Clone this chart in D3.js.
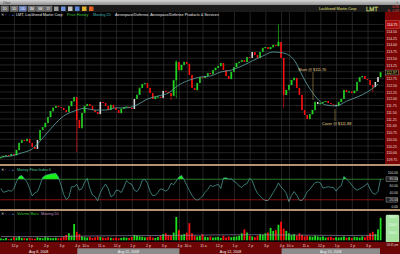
<!DOCTYPE html>
<html>
<head>
<meta charset="utf-8">
<script src="https://cdn.jsdelivr.net/npm/d3@7"></script>
<style>
body { margin: 0; background: #000; }
svg { display: block; font-family: "Liberation Sans", Arial, sans-serif; }
</style>
</head>
<body>
<div id="chart"></div>
<script>
// LMT intraday, 10 minute bars from Aug 8 (11:05) to Aug 13 (~3:45 pm)
var closes = [
  109.84, 109.88, 109.91, 109.88, 109.95, 109.91, 110.10, 110.36, 110.47, 110.43,
  110.51, 110.36, 110.21, 110.14, 110.47, 110.84, 110.95, 111.10, 111.32, 111.54,
  111.66, 111.73, 111.69, 111.66, 111.58, 111.51, 111.73, 111.91, 112.06, 111.21,
  110.91, 111.47, 111.73, 111.80, 111.73, 111.58, 111.51, 111.43, 111.88, 111.84,
  111.73, 111.58, 111.77, 111.66, 111.58, 111.47, 111.62, 111.69, 111.70, 111.66,
  111.62, 111.99, 112.14, 112.40, 112.54, 112.58, 112.40, 112.21, 111.99, 112.06,
  112.07, 112.03, 112.29, 112.25, 112.21, 112.10, 112.69, 113.36, 113.06, 113.25,
  113.36, 113.29, 112.88, 112.40, 112.32, 112.58, 112.80, 112.77, 112.84, 112.95,
  112.91, 113.06, 113.14, 113.21, 113.32, 113.06, 112.84, 112.73, 112.99, 113.17,
  113.32, 113.36, 113.43, 113.36, 113.54, 113.51, 113.73, 113.62, 113.51, 113.73,
  113.88, 113.91, 113.84, 113.91, 113.99, 113.95, 114.10, 113.51, 112.14, 112.32,
  112.51, 112.69, 112.77, 112.40, 112.14, 111.58, 111.40, 111.25, 111.43, 111.58,
  111.88, 111.80, 111.84, 111.88, 111.91, 111.84, 111.80, 111.77, 111.73, 111.88,
  111.99, 112.32, 112.25, 112.26, 112.21, 112.29, 112.62, 112.80, 112.84, 112.73,
  112.69, 112.51, 112.43, 112.62, 112.80, 112.97
];
var firstOpen = 109.80;
// bars with long shadows: [bar, high, low]
var longWicks = [[29, 112.06, 110.03], [67, 113.43, 112.03], [65, 112.21, 111.95],
                 [106, 114.75, 113.95], [108, 113.51, 111.66], [142, 112.51, 112.25]];
// bars drawn white (crossing the average)
var whiteBars = [14, 38, 51, 62, 96, 121, 128, 143, 144];

// Moving 20, read every 4 bars
var maPrice = [
  109.84, 109.88, 109.99, 110.14, 110.54, 110.99, 111.36, 111.54, 111.64, 111.58,
  111.58, 111.66, 111.66, 111.77, 111.99, 112.10, 112.21, 112.51, 112.69, 112.80,
  112.84, 112.99, 113.06, 113.21, 113.40, 113.58, 113.73, 113.69, 113.43, 112.69,
  112.10, 111.77, 111.73, 111.91, 112.06, 112.25, 112.54
];

// Money Flow Index, one value per bar
var mfi = [
  53, 42, 44, 47, 45, 52, 73, 88, 91, 81, 72, 53, 31, 40, 44, 63, 85, 91, 93, 95,
  96, 97, 86, 63, 36, 21, 27, 58, 58, 65, 48, 53, 71, 82, 53, 34, 29, 17, 41, 55,
  66, 53, 29, 33, 48, 47, 41, 57, 76, 68, 65, 48, 44, 55, 77, 80, 68, 44, 32, 33,
  42, 52, 49, 45, 51, 68, 64, 75, 86, 91, 78, 62, 47, 33, 23, 19, 23, 31, 42, 50,
  62, 59, 62, 65, 53, 83, 84, 80, 81, 74, 69, 60, 56, 64, 67, 82, 76, 54, 39, 31,
  23, 18, 18, 28, 41, 53, 69, 57, 50, 39, 15, 33, 44, 33, 19, 18, 28, 44, 50, 61,
  70, 72, 69, 54, 56, 58, 56, 56, 45, 56, 61, 88, 80, 73, 63, 53, 48, 52, 56, 61,
  68, 52, 39, 36, 44, 80
];

// Volume (shares x100), one value per bar
var volumes = [
  250, 180, 300, 150, 220, 400, 350, 500, 300, 280,
  260, 320, 240, 200, 380, 300, 260, 420, 350, 300,
  280, 340, 260, 300, 500, 700, 900, 600, 2100, 1100,
  800, 500, 400, 350, 450, 300, 380, 500, 420, 350,
  300, 400, 320, 280, 350, 260, 300, 380, 340, 300,
  420, 700, 600, 500, 450, 380, 420, 500, 350, 300,
  420, 600, 800, 900, 700, 600, 1000, 3000, 1300, 700,
  800, 1000, 2200, 900, 600, 500, 550, 800, 450, 400,
  500, 350, 400, 450, 300, 600, 350, 500, 400, 450,
  500, 600, 900, 1400, 1000, 600, 500, 400, 600, 800,
  700, 900, 1000, 1600, 1200, 1300, 2000, 2400, 1500, 1200,
  900, 700, 800, 600, 900, 700, 500, 600, 500, 450,
  600, 500, 400, 500, 350, 400, 450, 300, 400, 350,
  400, 500, 350, 400, 300, 450, 400, 350, 500, 400,
  600, 900, 1100, 800, 1400, 2900
];
// Moving 50 on volume, read every 12 bars
var volMa = [480, 470, 500, 560, 600, 620, 650, 700, 720, 690, 650, 620, 640];

var hourLabels = ["10 a", "11 a", "12 p", "1 p", "2 p", "3 p", "4 p"];
var dayLabels = ["Aug 8, 2008", "Aug 11, 2008", "Aug 12, 2008", "Aug 13, 2008"];
var dayOpens = [-95, 295, 685, 1075];   // trading minutes from chart start
var priceTicks = [109.75, 110, 110.25, 110.5, 110.75, 111, 111.25, 111.5, 111.75, 112,
                  112.25, 112.5, 112.75, 113, 113.25, 113.5, 113.75, 114, 114.25, 114.5, 114.75];
var mfiTicks = [100, 80, 60, 40, 20, 0];
var volTicks = [3000, 2000, 1000];

var svgWidth = 400;
var svgHeight = 254;
var plotRight = 384;

var svg = d3.select("#chart").append("svg")
    .attr("width", svgWidth)
    .attr("height", svgHeight)
    .style("background", "#000");

var fs = 3.8;

// scales
var x = d3.scaleLinear().domain([0, 1466]).range([0, plotRight]);
var yPrice = d3.scaleLinear().domain([110, 114.75]).range([152.7, 24.45]);
var yMfi = d3.scaleLinear().domain([0, 100]).range([206.7, 172.3]);
var yVol = d3.scaleLinear().domain([0, 3000]).range([240.3, 217]);
var barMin = function(i) { return i * 10 + 3; };

// hour ticks
var hourTicks = [];
dayOpens.forEach(function(o) {
  hourLabels.forEach(function(l, k) {
    var m = o + 30 + 60 * k;
    if (x(m) > 3 && x(m) < 378) hourTicks.push({m: m, label: l});
  });
});

// ---- window chrome ----
var grad = svg.append("defs").append("linearGradient").attr("id", "tb")
    .attr("x1", 0).attr("y1", 0).attr("x2", 0).attr("y2", 1);
grad.append("stop").attr("offset", "0%").attr("stop-color", "#d6d6d6");
grad.append("stop").attr("offset", "100%").attr("stop-color", "#8f8f8f");
svg.append("rect").attr("x", 0).attr("y", 0).attr("width", svgWidth).attr("height", 5).attr("fill", "url(#tb)");
svg.append("text").attr("x", 3).attr("y", 3.8).attr("font-size", 3).attr("fill", "#333").text("Chart");
svg.append("text").attr("x", 396).attr("y", 4).attr("font-size", 3.5).attr("fill", "#333").text("×");
svg.append("rect").attr("x", 0).attr("y", 5).attr("width", svgWidth).attr("height", 7).attr("fill", "#1a1a1a");

var buttons = ["1D", "5D", "10D", "3M", "6M", "1Y"];
var bx = [1, 10.5, 19, 28, 36.5, 44.5];
buttons.forEach(function(b, k) {
  svg.append("rect").attr("x", bx[k]).attr("y", 6).attr("width", 7.5).attr("height", 5.5)
     .attr("fill", k === 2 ? "#5872b8" : "#6a6a6a").attr("stroke", "#999").attr("stroke-width", 0.3);
  svg.append("text").attr("x", bx[k] + 3.75).attr("y", 10).attr("text-anchor", "middle")
     .attr("font-size", 3).attr("fill", "#fff").text(b);
});
var icons = ["#9a9a9a", "#6c8fd8", "#c0c0c0", "#5d86d6", "#e0b030", "#e06020"];
icons.forEach(function(c, k) {
  svg.append("rect").attr("x", 54 + k * 7).attr("y", 6.5).attr("width", 4.5).attr("height", 4.5).attr("fill", c);
});

svg.append("text").attr("x", 319).attr("y", 10.3).attr("font-size", fs).attr("fill", "#e6e07a").text("Lockheed Martin Corp");
svg.append("text").attr("x", 366).attr("y", 11).attr("font-size", 6).attr("fill", "none")
   .attr("stroke", "#d6e07a").attr("stroke-width", 0.35).text("LMT");
svg.append("text").attr("x", 399).attr("y", 8).attr("text-anchor", "end").attr("font-size", 3.4).attr("fill", "#ff3b3b").text("-0.95");
svg.append("text").attr("x", 399).attr("y", 11.6).attr("text-anchor", "end").attr("font-size", 3.4).attr("fill", "#ff3b3b").text("% -0.83");

// ---- grids ----
var grid = svg.append("g").attr("stroke", "#3b3b3b").attr("stroke-width", 0.6);
[[12, 164], [166, 209], [211, 242]].forEach(function(p) {
  grid.selectAll(null).data(hourTicks).enter().append("line")
    .attr("x1", d => x(d.m)).attr("x2", d => x(d.m)).attr("y1", p[0]).attr("y2", p[1]);
});
grid.selectAll(null).data(priceTicks).enter().append("line")
  .attr("x1", 0).attr("x2", plotRight).attr("y1", d => yPrice(d)).attr("y2", d => yPrice(d));

// ---- header ----
function header(y, parts) {
  svg.append("text").attr("x", 1).attr("y", y).attr("font-size", 3.6).attr("fill", "#ddd").text("✕");
  ["↑", "↓", "+"].forEach(function(s, k) {
    svg.append("text").attr("x", 5 + k * 3.4).attr("y", y).attr("font-size", 3.8).attr("font-weight", "bold")
       .attr("fill", "#4f7fe0").text(s);
  });
  parts.forEach(function(p) {
    svg.append("text").attr("x", p[0]).attr("y", y).attr("font-size", fs).attr("fill", p[2]).text(p[1]);
  });
}
header(16.4, [[16, "LMT, Lockheed Martin Corp", "#e8e8e8"], [67, "Price History", "#3fc93f"],
              [93, "Moving 20", "#44b8b8"], [115, "Aerospace/Defense, Aerospace/Defense Products & Services", "#e8e8e8"]]);

// ---- candles ----
var bars = closes.map(function(c, i) {
  var o = i === 0 ? firstOpen : closes[i - 1];
  var w = longWicks.find(d => d[0] === i);
  return {i: i, o: o, c: c, h: w ? w[1] : Math.max(o, c), l: w ? w[2] : Math.min(o, c)};
});
function barColor(d) {
  if (whiteBars.indexOf(d.i) >= 0) return "#d9d9d9";
  return d.c >= d.o ? "#1fe01f" : "#ff1010";
}
var candles = svg.append("g");
candles.selectAll("line").data(bars).enter().append("line")
  .attr("x1", d => x(barMin(d.i))).attr("x2", d => x(barMin(d.i)))
  .attr("y1", d => yPrice(d.h)).attr("y2", d => yPrice(d.l))
  .attr("stroke", barColor).attr("stroke-width", 0.6);
candles.selectAll("rect").data(bars).enter().append("rect")
  .attr("x", d => x(barMin(d.i)) - 0.75)
  .attr("width", 1.5)
  .attr("y", d => yPrice(Math.max(d.o, d.c)))
  .attr("height", d => Math.max(0.8, Math.abs(yPrice(d.o) - yPrice(d.c))))
  .attr("fill", barColor)
  .attr("stroke", d => barColor(d) === "#1fe01f" ? "#2e9a2e" : "none")
  .attr("stroke-width", 0.3);

// moving average
var maLine = d3.line()
  .x((d, k) => x(barMin(k * 4)))
  .y(d => yPrice(d))
  .curve(d3.curveMonotoneX);
svg.append("path").datum(maPrice).attr("d", maLine)
  .attr("fill", "none").attr("stroke", "#5ea6a6").attr("stroke-width", 0.8);

// trade notes
var noteColor = "#e8d890";
svg.append("line").attr("x1", 313).attr("x2", 313).attr("y1", 72).attr("y2", 100)
   .attr("stroke", "#c8b060").attr("stroke-width", 0.5);
svg.append("text").attr("x", 298).attr("y", 70.5).attr("font-size", fs).attr("fill", noteColor).text("Short @ $111.70");
svg.append("line").attr("x1", 335).attr("x2", 335).attr("y1", 109).attr("y2", 121)
   .attr("stroke", "#c8b060").attr("stroke-width", 0.5);
svg.append("text").attr("x", 322).attr("y", 125).attr("font-size", fs).attr("fill", noteColor).text("Cover @ $111.88");

// ---- price axis ----
svg.append("rect").attr("x", 385).attr("y", 12).attr("width", 15).attr("height", 152.5).attr("fill", "#7a0505");
var pAxis = svg.append("g").attr("transform", "translate(386,0)")
  .call(d3.axisRight(yPrice).tickValues(priceTicks).tickSize(0).tickFormat(d3.format(".2f")));
pAxis.select(".domain").remove();
pAxis.selectAll("text").attr("x", 0.5).attr("font-size", 3.5).attr("fill", "#f0dede").attr("font-family", null);
svg.append("rect").attr("x", 385.3).attr("y", yPrice(114.75) - 4).attr("width", 14.4).attr("height", 8)
   .attr("fill", "#a80c0c").attr("stroke", "#d86a6a").attr("stroke-width", 0.4);
svg.append("text").attr("x", 387).attr("y", yPrice(114.75) + 1.3).attr("font-size", 3.5).attr("fill", "#fff").text("114.75");
svg.append("rect").attr("x", 385.3).attr("y", yPrice(112.97) - 2.4).attr("width", 13).attr("height", 4.8)
   .attr("fill", "#000").attr("stroke", "#bbb").attr("stroke-width", 0.4);
svg.append("text").attr("x", 386.4).attr("y", yPrice(112.97) + 1.3).attr("font-size", 3.5).attr("fill", "#f2e05a").text("112.97");

// separators
[165, 210].forEach(function(y) {
  svg.append("rect").attr("x", 0).attr("y", y - 0.8).attr("width", svgWidth).attr("height", 1.6).attr("fill", "#e2b690");
});

// ---- money flow ----
header(171.2, [[17, "Money Flow Index 6", "#4cc49a"]]);
var defs = svg.select("defs");
defs.append("clipPath").attr("id", "hi").append("rect").attr("x", 0).attr("y", 166).attr("width", plotRight).attr("height", yMfi(80) - 166);
defs.append("clipPath").attr("id", "lo").append("rect").attr("x", 0).attr("y", yMfi(20)).attr("width", plotRight).attr("height", 209 - yMfi(20));
var mx = (d, i) => x(barMin(i));
svg.append("path").datum(mfi).attr("clip-path", "url(#hi)").attr("fill", "#16f016")
  .attr("d", d3.area().x(mx).y0(yMfi(80)).y1(d => yMfi(d)));
svg.append("path").datum(mfi).attr("clip-path", "url(#lo)").attr("fill", "#ff1a1a")
  .attr("d", d3.area().x(mx).y0(yMfi(20)).y1(d => yMfi(d)));
svg.append("line").attr("x1", 0).attr("x2", plotRight).attr("y1", yMfi(80)).attr("y2", yMfi(80))
   .attr("stroke", "#3f9a3f").attr("stroke-width", 0.6);
svg.append("line").attr("x1", 0).attr("x2", plotRight).attr("y1", yMfi(20)).attr("y2", yMfi(20))
   .attr("stroke", "#b01818").attr("stroke-width", 0.6);
svg.append("path").datum(mfi).attr("fill", "none").attr("stroke", "#4fa8a2").attr("stroke-width", 0.7)
  .attr("d", d3.line().x(mx).y(d => yMfi(d)));
mfiTicks.forEach(function(t) {
  var boxed = t === 80 || t === 20;
  if (boxed) svg.append("rect").attr("x", 386).attr("y", yMfi(t) - 2.3).attr("width", 11.5).attr("height", 4.6)
     .attr("fill", "#222").attr("stroke", "#bbb").attr("stroke-width", 0.4);
  svg.append("text").attr("x", 398).attr("y", yMfi(t) + 1.3).attr("text-anchor", "end").attr("font-size", 3.4)
     .attr("fill", "#d8d8d8").text(d3.format(".2f")(t));
});

// ---- volume ----
header(215.4, [[17, "Volume Bars", "#3cc23c"], [41, "Moving 50", "#c58ec5"]]);
svg.append("g").selectAll("rect").data(volumes).enter().append("rect")
  .attr("x", (d, i) => x(barMin(i)) - 0.9).attr("width", 1.8)
  .attr("y", d => yVol(d)).attr("height", d => yVol(0) - yVol(d))
  .attr("fill", (d, i) => barColor(bars[i]) === "#d9d9d9" ? "#1fe01f" : barColor(bars[i]));
svg.append("path").datum(volMa).attr("fill", "none").attr("stroke", "#8f7f9f").attr("stroke-width", 0.7)
  .attr("d", d3.line().x((d, k) => x(barMin(k * 12))).y(d => yVol(d)));
svg.append("rect").attr("x", 386).attr("y", 215).attr("width", 13).attr("height", 27.5).attr("rx", 1)
   .attr("fill", "#a6e3a0").attr("stroke", "#d8f5d0").attr("stroke-width", 0.4);
volTicks.forEach(function(t) {
  svg.append("text").attr("x", 392.5).attr("y", yVol(t) + 1.3).attr("text-anchor", "middle").attr("font-size", 3.4)
     .attr("fill", "#eaffea").text(t);
});

// ---- time axis ----
svg.append("rect").attr("x", 0).attr("y", 242).attr("width", svgWidth).attr("height", 12).attr("fill", "#6c0606");
var xAxis = svg.append("g").attr("transform", "translate(0,243)")
  .call(d3.axisBottom(x).tickValues(hourTicks.map(d => d.m)).tickSize(0)
    .tickFormat((d, k) => hourTicks[k].label));
xAxis.select(".domain").remove();
xAxis.selectAll("text").attr("y", 1).attr("dy", "0.8em").attr("font-size", 3.5).attr("fill", "#f2dcdc").attr("font-family", null);
dayLabels.forEach(function(l, k) {
  var x0 = Math.max(0, x(dayOpens[k])), x1 = Math.min(380, x(dayOpens[k] + 390));
  if (k % 2 === 1) svg.append("rect").attr("x", x0).attr("y", 248.3).attr("width", x1 - x0).attr("height", 5.7).attr("fill", "#8c8c8c");
  svg.append("text").attr("x", (x0 + x1) / 2).attr("y", 252.6).attr("text-anchor", "middle").attr("font-size", 3.6)
     .attr("fill", "#f4f4f4").text(l);
});
svg.append("text").attr("x", 392.5).attr("y", 245.5).attr("text-anchor", "middle").attr("font-size", 2.8)
   .attr("fill", "#ddd").text("03:45 pm");
</script>
</body>
</html>
